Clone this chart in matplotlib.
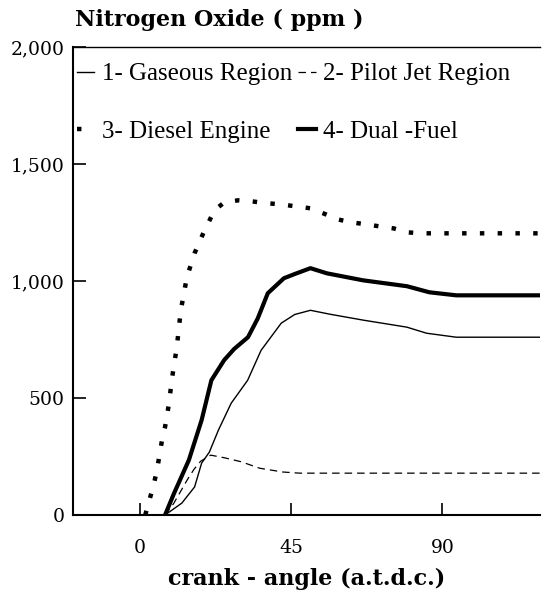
import matplotlib.pyplot as plt
from matplotlib.ticker import FuncFormatter

# crank angle (deg a.t.d.c.) and NOx (ppm)
gas_x = [7.4, 12.4, 16.2, 18.3, 20.6, 23.3, 27.1, 32, 36, 42, 46, 50.7, 56.6, 66.4, 79.4, 85.3, 94.1, 119]
gas_y = [0, 51, 120, 222, 269, 363, 478, 576, 704, 820, 857, 875, 858, 833, 803, 777, 760, 760]

pilot_x = [7.4, 10, 12, 14, 16, 18, 21, 25, 30, 35.6, 42.4, 47.5, 60, 119]
pilot_y = [0, 50, 100, 150, 195, 230, 256, 245, 228, 200, 184, 179, 179, 179]

diesel_x = [1.5, 2.1, 3, 4, 5, 6.5, 7.4, 8.6, 9.4, 10.9, 12.1, 13.9, 16.2, 18.9, 22.1, 25.1, 29.2,
            33, 38, 42, 46.3, 50.7, 54.6, 58.7, 62.8, 67, 71.1, 75.5, 79.6, 84, 88.2, 119]
diesel_y = [0, 30, 77, 128, 192, 320, 376, 478, 577, 717, 875, 1016, 1119, 1208, 1302, 1337, 1345,
            1341, 1332, 1328, 1319, 1311, 1289, 1264, 1251, 1243, 1234, 1225, 1208, 1204, 1204, 1204]

dual_x = [7.4, 10, 14.5, 18.3, 21.2, 25, 28, 32.1, 35, 38, 42.8, 46, 50.7, 55.6, 66.4, 79.4, 86.1, 94.1, 119]
dual_y = [0, 90, 235, 406, 576, 662, 710, 760, 840, 948, 1012, 1030, 1055, 1033, 1003, 978, 952, 939, 939]

x_ticks = [0, 45, 90]
y_ticks = [0, 500, 1000, 1500, 2000]

fig = plt.figure(figsize=(5.42, 5.92), dpi=100)
ax = fig.add_axes([0.1347, 0.130, 0.8613, 0.7905])

l1, = ax.plot(gas_x, gas_y, color='black', lw=1.0, label='1- Gaseous Region')
l2, = ax.plot(pilot_x, pilot_y, color='black', lw=0.9, linestyle=(0, (6, 4)), label='2- Pilot Jet Region')
l3, = ax.plot(diesel_x, diesel_y, color='black', lw=3.2, linestyle=(0, (1, 3)), label='3- Diesel Engine')
l4, = ax.plot(dual_x, dual_y, color='black', lw=3.0, label='4- Dual -Fuel')

ax.set_xlim(-20, 119)
ax.set_ylim(0, 2000)
ax.set_xticks(x_ticks)
ax.set_yticks(y_ticks)
ax.yaxis.set_major_formatter(FuncFormatter(lambda v, p: f'{int(v):,}'))
ax.tick_params(direction='in', length=9, width=1.2, labelsize=13.5)
ax.tick_params(axis='y', pad=6)
ax.tick_params(axis='x', pad=17)
for lab in ax.get_xticklabels() + ax.get_yticklabels():
    lab.set_family('DejaVu Serif')

ax.spines['right'].set_visible(False)
ax.spines['left'].set_linewidth(1.5)
ax.spines['bottom'].set_linewidth(1.5)
ax.spines['top'].set_linewidth(1.0)

leg = ax.legend([l1, l3, l2, l4], [l1.get_label(), l3.get_label(), l2.get_label(), l4.get_label()],
                ncol=2, loc='upper left', bbox_to_anchor=(0.008, 0.966), frameon=False,
                prop={'family': 'Liberation Serif', 'size': 18},
                handlelength=0.7, handletextpad=0.3, labelspacing=1.4, columnspacing=0.25,
                borderaxespad=0, borderpad=0)

fig.text(0.138, 0.966, 'Nitrogen Oxide ( ppm )', fontsize=16, fontweight='bold',
         family='DejaVu Serif', va='center', ha='left')
fig.text(0.565, 0.011, 'crank - angle (a.t.d.c.)', fontsize=16, fontweight='bold',
         family='DejaVu Serif', va='baseline', ha='center')

fig.savefig('out.png', dpi=100)
